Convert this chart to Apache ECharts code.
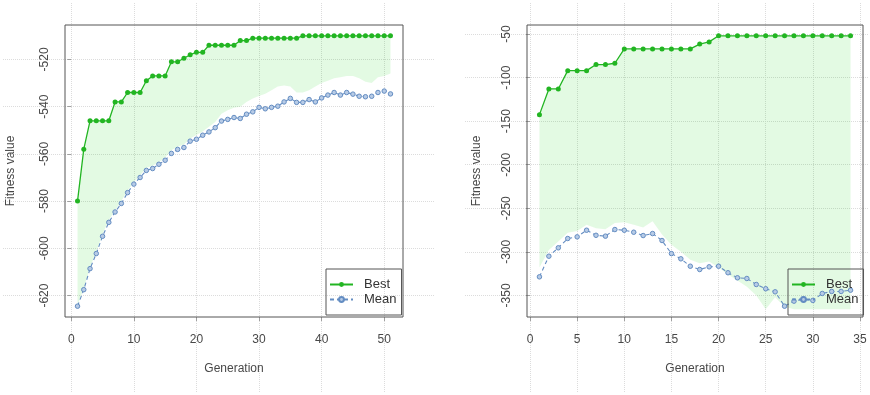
<!DOCTYPE html>
<html>
<head>
<meta charset="utf-8">
<script src="https://cdn.jsdelivr.net/npm/echarts@6/dist/echarts.min.js"></script>
<style>
  html, body { margin: 0; padding: 0; background: #fff; }
  #chart { width: 870px; height: 395px; }
</style>
</head>
<body>
<div id="chart"></div>
<script>
// ---- Run A: 51 generations ----
const genA = [1,2,3,4,5,6,7,8,9,10,11,12,13,14,15,16,17,18,19,20,21,22,23,24,25,26,27,28,29,30,31,32,33,34,35,36,37,38,39,40,41,42,43,44,45,46,47,48,49,50,51];
const bestA = [-580,-558,-546,-546,-546,-546,-538,-538,-534,-534,-534,-529,-527,-527,-527,-521,-521,-519.5,-518,-517,
               -517,-514,-514,-514,-514,-514,-512,-512,-511,-511,-511,-511,-511,-511,-511,-511,-510,-510,-510,-510,
               -510,-510,-510,-510,-510,-510,-510,-510,-510,-510,-510];
const meanA = [-624.5,-617.5,-608.6,-602.2,-594.9,-589,-584.6,-581,-576.4,-572.8,-570,-567,-566.2,-564.4,-562.7,-559.8,-558.1,-557.3,-554.6,-553.8,
               -552.1,-550.7,-548.9,-546.1,-545.4,-544.6,-545,-543.2,-542.2,-540.3,-540.9,-540.3,-539.8,-538,-536.5,-538.2,-538.2,-537,-538,-536.3,
               -535.1,-534,-535.1,-534,-534.7,-535.6,-535.8,-535.6,-534,-533.4,-534.6];
const medianA = [-624,-617,-608,-601.5,-594,-588,-584,-580,-575.5,-572,-569,-566,-565,-563.5,-561.5,-558.5,-557,-556,-553.5,-552,
                 -550.5,-548.5,-546.5,-543,-541.5,-540.5,-540,-538,-536.5,-535.5,-534.5,-533,-531.5,-531,-531.5,-534,-534,-533,-531.5,-530,
                 -529,-528,-527.5,-527,-527,-528,-529.5,-530,-527.5,-527,-526];
const xTicksA = [0,10,20,30,40,50];
const yTicksA = [-620,-600,-580,-560,-540,-520];

// ---- Run B: 34 generations ----
const genB = [1,2,3,4,5,6,7,8,9,10,11,12,13,14,15,16,17,18,19,20,21,22,23,24,25,26,27,28,29,30,31,32,33,34];
const bestB = [-142.5,-113,-113,-92,-92,-92,-85,-85,-83.5,-67,-67,-67,-67,-67,-67,-67,-67,-61.5,-59,-52,
               -52,-52,-52,-52,-52,-52,-52,-52,-52,-52,-52,-52,-52,-52];
const meanB = [-328.7,-305,-295.4,-284.7,-282.8,-275.2,-281,-282,-274.4,-275.2,-277.5,-281.3,-279,-287,-302,-308,-316.5,-320.3,-317.2,-316.5,
               -324,-329.8,-330.6,-337.5,-342.4,-345.9,-362.4,-356.6,-354.2,-355.8,-347.8,-345.5,-345.5,-344];
const medianB = [-318,-298,-288,-278,-276,-269,-273,-274,-267,-266,-269,-272,-265,-280,-292,-300,-309,-313,-311,-318,
                 -326,-333,-340,-350,-366,-352,-363,-366,-366,-366,-366,-366,-366,-366];
const xTicksB = [0,5,10,15,20,25,30,35];
const yTicksB = [-350,-300,-250,-200,-150,-100,-50];

const FONT = '"Liberation Sans", Arial, sans-serif';
const GREEN = '#22b522';
const BLUE = '#648dc2';
const BAND = 'rgba(0,205,0,0.11)';
const GRIDLINE = '#dcdcdc';

// R-style axis ranges: data range widened by 4% on each side
function pad(values) {
  let lo = Infinity, hi = -Infinity;
  values.forEach(v => { if (v < lo) lo = v; if (v > hi) hi = v; });
  const d = (hi - lo) * 0.04;
  return [lo - d, hi + d];
}

const panels = [
  { gen: genA, best: bestA, mean: meanA, median: medianA, xTicks: xTicksA, yTicks: yTicksA,
    box: { left: 65, top: 25, width: 338, height: 292 },
    outer: { left: 3, top: 3, right: 435, bottom: 393 },
    yNameGap: 48, legend: { left: 326, top: 269 } },
  { gen: genB, best: bestB, mean: meanB, median: medianB, xTicks: xTicksB, yTicks: yTicksB,
    box: { left: 527, top: 25, width: 336, height: 292 },
    outer: { left: 465, top: 3, right: 868, bottom: 393 },
    yNameGap: 44, legend: { left: 788, top: 269 } }
];

const grid = [], xAxis = [], yAxis = [], series = [], legend = [];

panels.forEach((p, i) => {
  const xr = pad(p.gen);
  const yr = pad(p.best.concat(p.mean));
  const b = p.box, o = p.outer;
  // extend the scales to the outer region so the dotted guides run past the box
  const xs = (xr[1] - xr[0]) / b.width;
  const ys = (yr[1] - yr[0]) / b.height;
  const oxr = [xr[0] - (b.left - o.left) * xs, xr[1] + (o.right - (b.left + b.width)) * xs];
  const oyr = [yr[0] - (o.bottom - (b.top + b.height)) * ys, yr[1] + (b.top - o.top) * ys];

  // outer grid: guide lines only
  grid.push({ left: o.left, top: o.top, width: o.right - o.left, height: o.bottom - o.top, show: false, z: 0 });
  const guide = {
    axisLine: { show: false },
    axisLabel: { show: false },
    splitLine: { show: true, lineStyle: { color: GRIDLINE, type: 'dotted', width: 1 } }
  };
  xAxis.push(Object.assign({ gridIndex: 2 * i, type: 'value', min: oxr[0], max: oxr[1],
    axisTick: { show: false, customValues: p.xTicks } }, guide));
  yAxis.push(Object.assign({ gridIndex: 2 * i, type: 'value', min: oyr[0], max: oyr[1],
    axisTick: { show: false, customValues: p.yTicks } }, guide));

  // plot box
  grid.push({ left: b.left, top: b.top, width: b.width, height: b.height, show: true,
    borderColor: '#555', borderWidth: 1, backgroundColor: 'transparent', z: 1 });
  const labelStyle = { fontSize: 12, color: '#484848', fontFamily: FONT };
  xAxis.push({ gridIndex: 2 * i + 1, type: 'value', min: xr[0], max: xr[1],
    axisLine: { show: false },
    axisTick: { show: true, length: 4, lineStyle: { color: '#a0a0a0' }, customValues: p.xTicks },
    axisLabel: Object.assign({ customValues: p.xTicks, margin: 17 }, labelStyle),
    splitLine: { show: false },
    name: 'Generation', nameLocation: 'middle', nameGap: 46,
    nameTextStyle: labelStyle });
  yAxis.push({ gridIndex: 2 * i + 1, type: 'value', min: yr[0], max: yr[1],
    axisLine: { show: false },
    axisTick: { show: true, length: 4, lineStyle: { color: '#a0a0a0' }, customValues: p.yTicks },
    axisLabel: Object.assign({ customValues: p.yTicks, margin: 14, rotate: 90 }, labelStyle),
    splitLine: { show: false },
    name: 'Fitness value', nameLocation: 'middle', nameGap: p.yNameGap, nameRotate: 90,
    nameTextStyle: labelStyle });

  const ax = 2 * i + 1;
  // shaded band between the best and median curves
  series.push({
    type: 'custom', xAxisIndex: ax, yAxisIndex: ax, z: 1, silent: true,
    data: p.gen.map((g, k) => [g, p.best[k], p.median[k]]),
    encode: { x: 0, y: [1, 2] },
    renderItem: (params, api) => {
      if (params.dataIndex !== 0) return null;
      const pts = [];
      for (let k = 0; k < p.gen.length; k++) pts.push(api.coord([p.gen[k], p.best[k]]));
      for (let k = p.gen.length - 1; k >= 0; k--) pts.push(api.coord([p.gen[k], p.median[k]]));
      return { type: 'polygon', shape: { points: pts }, style: { fill: BAND } };
    }
  });
  series.push({
    name: 'Best', type: 'line', xAxisIndex: ax, yAxisIndex: ax, z: 3,
    data: p.gen.map((g, k) => [g, p.best[k]]),
    symbol: 'circle', symbolSize: 5,
    itemStyle: { color: GREEN },
    lineStyle: { color: GREEN, width: 1.3 }
  });
  series.push({
    name: 'Mean', type: 'line', xAxisIndex: ax, yAxisIndex: ax, z: 3,
    data: p.gen.map((g, k) => [g, p.mean[k]]),
    symbol: 'circle', symbolSize: 4.5,
    itemStyle: { color: '#b7cbe6', borderColor: BLUE, borderWidth: 1 },
    lineStyle: { color: BLUE, width: 1.1, type: [4, 3] }
  });

  legend.push({
    orient: 'vertical', left: p.legend.left, top: p.legend.top,
    data: ['Best', 'Mean'],
    padding: [8, 5, 8, 3], itemGap: 0, itemWidth: 23, itemHeight: 6,
    borderColor: '#555', borderWidth: 1, borderRadius: 0,
    backgroundColor: 'transparent',
    textStyle: { fontSize: 13, color: '#333', fontFamily: FONT, lineHeight: 15, padding: [0, 0, 0, 6] },
    selectedMode: false
  });
});

const chart = echarts.init(document.getElementById('chart'), null, { renderer: 'canvas' });
chart.setOption({
  animation: false,
  backgroundColor: '#fff',
  grid, xAxis, yAxis, series, legend
});
</script>
</body>
</html>
